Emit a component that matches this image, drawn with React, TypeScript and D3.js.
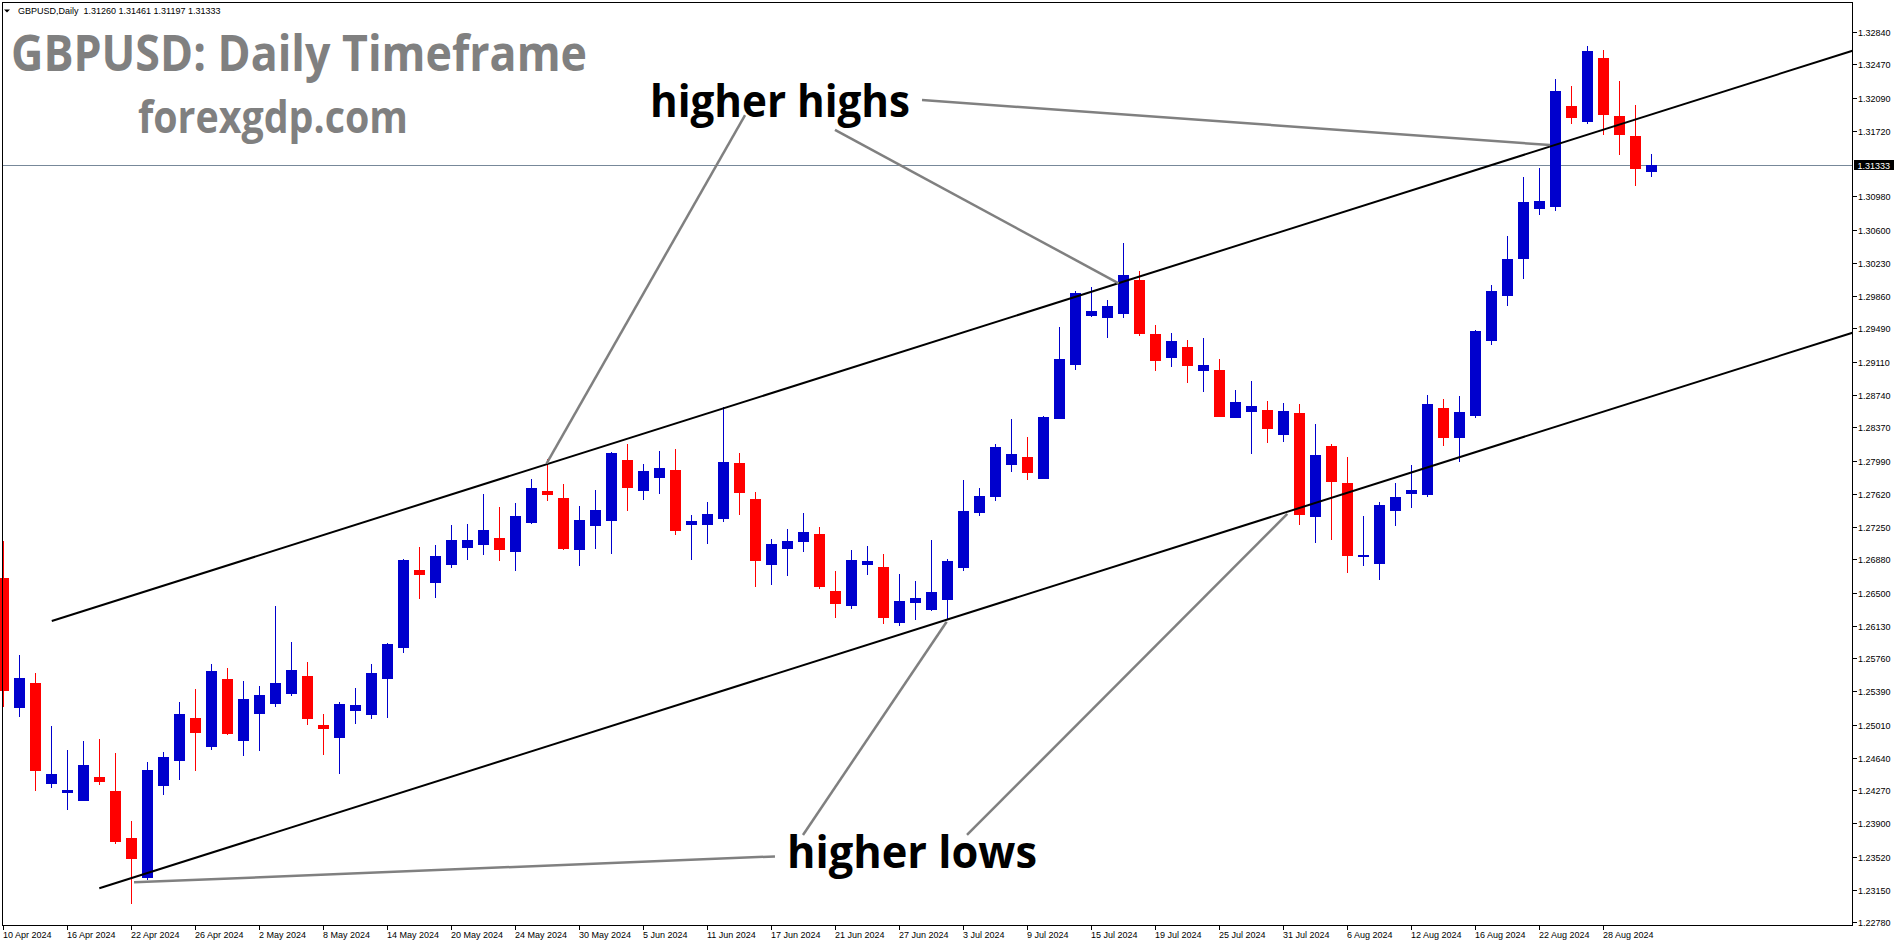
import * as d3 from 'd3';
import React from 'react';

// daily bars, 10 Apr 2024 .. 2 Sep 2024
const opens = [
  1.26672, 1.25204, 1.25482, 1.24345, 1.24244, 1.24153, 1.24421, 1.24263, 1.23732, 1.23283,
  1.24322, 1.24605, 1.25088, 1.24763, 1.25527, 1.24831, 1.25136, 1.25249, 1.25362, 1.25561,
  1.25009, 1.24865, 1.25170, 1.25125, 1.25531, 1.25881, 1.26759, 1.26614, 1.26819, 1.27008,
  1.27042, 1.27121, 1.26966, 1.27290, 1.27655, 1.27573, 1.26985, 1.27256, 1.27313, 1.28002,
  1.27655, 1.27799, 1.27889, 1.27268, 1.27268, 1.27335, 1.27968, 1.27561, 1.26816, 1.26996,
  1.27075, 1.27166, 1.26522, 1.26352, 1.26816, 1.26793, 1.26160, 1.26386, 1.26307, 1.26420,
  1.26782, 1.27403, 1.27584, 1.27946, 1.28039, 1.27791, 1.28469, 1.29078, 1.29632, 1.29609,
  1.29654, 1.30035, 1.29424, 1.29157, 1.29278, 1.29006, 1.29018, 1.28477, 1.28544, 1.28567,
  1.28284, 1.28533, 1.27358, 1.28160, 1.27742, 1.26909, 1.26827, 1.27426, 1.27618, 1.27606,
  1.28590, 1.28250, 1.28499, 1.29346, 1.29854, 1.30270, 1.30841, 1.30860, 1.32000, 1.31820,
  1.32543, 1.31888, 1.31662, 1.31260,
];
const highs = [
  1.27087, 1.25798, 1.25595, 1.24997, 1.24726, 1.24828, 1.24850, 1.24692, 1.23924, 1.24590,
  1.24703, 1.25268, 1.25415, 1.25697, 1.25652, 1.25505, 1.25448, 1.26352, 1.25945, 1.25719,
  1.25133, 1.25268, 1.25426, 1.25697, 1.25934, 1.26883, 1.27016, 1.27042, 1.27267, 1.27279,
  1.27618, 1.27471, 1.27516, 1.27787, 1.28010, 1.27731, 1.27482, 1.27663, 1.28095, 1.28183,
  1.27957, 1.28103, 1.28126, 1.27380, 1.27527, 1.28601, 1.28081, 1.27641, 1.27109, 1.27222,
  1.27403, 1.27245, 1.26748, 1.26985, 1.27030, 1.26940, 1.26714, 1.26635, 1.27098, 1.26883,
  1.27776, 1.27686, 1.28183, 1.28465, 1.28265, 1.28499, 1.29504, 1.29911, 1.29956, 1.29809,
  1.30453, 1.30137, 1.29526, 1.29436, 1.29357, 1.29380, 1.29142, 1.28793, 1.28895, 1.28669,
  1.28646, 1.28635, 1.28409, 1.28183, 1.28036, 1.27369, 1.27527, 1.27742, 1.27946, 1.28736,
  1.28691, 1.28725, 1.29470, 1.29979, 1.30532, 1.31198, 1.31300, 1.32306, 1.32226, 1.32678,
  1.32633, 1.32283, 1.32012, 1.31461,
];
const lows = [
  1.25209, 1.25102, 1.24266, 1.24297, 1.24051, 1.24150, 1.24333, 1.23667, 1.22990, 1.23257,
  1.24221, 1.24390, 1.24492, 1.24729, 1.24899, 1.24662, 1.24718, 1.25215, 1.25340, 1.25012,
  1.24673, 1.24458, 1.25023, 1.25080, 1.25091, 1.25824, 1.26435, 1.26446, 1.26782, 1.26872,
  1.26929, 1.26861, 1.26753, 1.27279, 1.27542, 1.26985, 1.26807, 1.26996, 1.26940, 1.27426,
  1.27554, 1.27618, 1.27155, 1.26872, 1.27053, 1.27301, 1.27380, 1.26567, 1.26590, 1.26692,
  1.26962, 1.26544, 1.26216, 1.26318, 1.26703, 1.26149, 1.26126, 1.26194, 1.26296, 1.26194,
  1.26748, 1.27369, 1.27539, 1.27867, 1.27780, 1.27787, 1.28465, 1.29021, 1.29620, 1.29383,
  1.29609, 1.29405, 1.29010, 1.29055, 1.28872, 1.28770, 1.28488, 1.28477, 1.28070, 1.28194,
  1.28206, 1.27268, 1.27064, 1.27098, 1.26725, 1.26804, 1.26646, 1.27256, 1.27460, 1.27584,
  1.28160, 1.27979, 1.28477, 1.29301, 1.29741, 1.30044, 1.30769, 1.30815, 1.31797, 1.31797,
  1.31673, 1.31447, 1.31096, 1.31197,
];
const closes = [
  1.25394, 1.25539, 1.24492, 1.24455, 1.24274, 1.24556, 1.24367, 1.23686, 1.23497, 1.24500,
  1.24647, 1.25133, 1.24922, 1.25617, 1.24910, 1.25302, 1.25346, 1.25482, 1.25629, 1.25080,
  1.24967, 1.25246, 1.25235, 1.25595, 1.25923, 1.26872, 1.26706, 1.26917, 1.27098, 1.27098,
  1.27211, 1.26989, 1.27369, 1.27686, 1.27610, 1.26996, 1.27324, 1.27437, 1.28084, 1.27686,
  1.27878, 1.27912, 1.27200, 1.27313, 1.27392, 1.27979, 1.27629, 1.26861, 1.27053, 1.27087,
  1.27188, 1.26567, 1.26375, 1.26872, 1.26861, 1.26216, 1.26409, 1.26443, 1.26511, 1.26861,
  1.27426, 1.27595, 1.28149, 1.28070, 1.27859, 1.28488, 1.29142, 1.29888, 1.29685, 1.29741,
  1.30092, 1.29427, 1.29123, 1.29346, 1.29066, 1.29074, 1.28491, 1.28657, 1.28612, 1.28352,
  1.28556, 1.27380, 1.28059, 1.27754, 1.26917, 1.26929, 1.27494, 1.27584, 1.27663, 1.28635,
  1.28250, 1.28544, 1.29459, 1.29911, 1.30278, 1.30916, 1.30928, 1.32170, 1.31868, 1.32622,
  1.31899, 1.31673, 1.31289, 1.31333,
];

const priceTicks = [
  1.32840, 1.32470, 1.32090, 1.31720, 1.30980, 1.30600, 1.30230, 1.29860, 1.29490,
  1.29110, 1.28740, 1.28370, 1.27990, 1.27620, 1.27250, 1.26880, 1.26500, 1.26130,
  1.25760, 1.25390, 1.25010, 1.24640, 1.24270, 1.23900, 1.23520, 1.23150, 1.22780,
];
const dateTicks = [
  '10 Apr 2024', '16 Apr 2024', '22 Apr 2024', '26 Apr 2024', '2 May 2024', '8 May 2024',
  '14 May 2024', '20 May 2024', '24 May 2024', '30 May 2024', '5 Jun 2024', '11 Jun 2024',
  '17 Jun 2024', '21 Jun 2024', '27 Jun 2024', '3 Jul 2024', '9 Jul 2024', '15 Jul 2024',
  '19 Jul 2024', '25 Jul 2024', '31 Jul 2024', '6 Aug 2024', '12 Aug 2024', '16 Aug 2024',
  '22 Aug 2024', '28 Aug 2024',
];

const lastPrice = 1.31333;
const header = 'GBPUSD,Daily  1.31260 1.31461 1.31197 1.31333';

// channel trend lines (bar index, price); drawn as rays to the right edge
const upperChannel = [{ bar: 3.03, price: 1.26183 }, { bar: 97, price: 1.31562 }];
const lowerChannel = [{ bar: 6.0, price: 1.23164 }, { bar: 97, price: 1.28376 }];

// grey pointer lines from the labels to the swing points
const pointerLines = [
  [{ bar: 33.96, price: 1.27964 }, { bar: 46.36, price: 1.31899 }],
  [{ bar: 51.98, price: 1.31730 }, { bar: 69.71, price: 1.29998 }],
  [{ bar: 57.42, price: 1.32068 }, { bar: 96.67, price: 1.31560 }],
  [{ bar: 8.17, price: 1.23231 }, { bar: 48.23, price: 1.23524 }],
  [{ bar: 49.98, price: 1.23766 }, { bar: 58.96, price: 1.26175 }],
  [{ bar: 60.23, price: 1.23766 }, { bar: 80.25, price: 1.27392 }],
];

const W = 1898;
const H = 946;
const plot = { left: 2.5, top: 2.5, right: 1852.5, bottom: 925.5 };
const axisFont = '"Liberation Sans", Arial, sans-serif';
const bigFont = '"Open Sans", "Liberation Sans", sans-serif';

const firstDay = new Date(Date.UTC(2024, 3, 10));
const dates = d3
  .utcDays(firstDay, d3.utcDay.offset(firstDay, 220))
  .filter(d => d.getUTCDay() % 6 !== 0)
  .slice(0, closes.length);
const fmtDate = d3.utcFormat('%-d %b %Y');

const App: React.FC = () => {
  const x = d3.scaleLinear().domain([0, closes.length - 1]).range([3.3, 3.3 + 16 * (closes.length - 1)]);
  const y = d3.scaleLinear().domain([1.22749, 1.3317]).range([925, 2.5]);
  const lastBar = x.invert(plot.right);

  const ray = (pts: { bar: number; price: number }[]) => {
    const [a, b] = pts;
    const slope = (b.price - a.price) / (b.bar - a.bar);
    const endPrice = a.price + slope * (lastBar - a.bar);
    return { x1: x(a.bar), y1: y(a.price), x2: x(lastBar), y2: y(endPrice) };
  };

  const up = ray(upperChannel);
  const lo = ray(lowerChannel);
  const labels = dates.map(d => fmtDate(d));
  const yLast = Math.round(y(lastPrice)) + 0.5;

  return (
    <div style={{ position: 'fixed', left: 0, top: 0 }}>
      <svg width={W} height={H} style={{ display: 'block', background: '#fff' }}>
        <rect x={0} y={0} width={W} height={H} fill="#fff" />

        {/* current price line */}
        <line x1={plot.left} x2={plot.right} y1={yLast} y2={yLast} stroke="#778899" strokeWidth={1} />

        {/* candles */}
        <g shapeRendering="crispEdges">
          {closes.map((c, i) => {
            const o = opens[i];
            const cx = Math.round(x(i)) + 0.5;
            const col = c >= o ? '#0000CD' : '#FF0000';
            const top = Math.round(y(Math.max(o, c)));
            const bot = Math.round(y(Math.min(o, c)));
            return (
              <g key={i}>
                <line x1={cx} x2={cx} y1={Math.round(y(highs[i]))} y2={Math.round(y(lows[i]))} stroke={col} strokeWidth={1} />
                <rect x={cx - 5.5} y={top} width={11} height={Math.max(1, bot - top)} fill={col} />
              </g>
            );
          })}
        </g>

        {/* channel */}
        <line {...up} stroke="#000" strokeWidth={2} />
        <line {...lo} stroke="#000" strokeWidth={2} />

        {/* pointers */}
        {pointerLines.map((p, i) => (
          <line key={i} x1={x(p[0].bar)} y1={y(p[0].price)} x2={x(p[1].bar)} y2={y(p[1].price)} stroke="#808080" strokeWidth={2.5} />
        ))}

        {/* frame */}
        <rect x={plot.left} y={plot.top} width={plot.right - plot.left} height={plot.bottom - plot.top} fill="none" stroke="#000" strokeWidth={1} shapeRendering="crispEdges" />

        {/* price axis */}
        <g fontFamily={axisFont} fontSize={9} fill="#000">
          {priceTicks.map(v => {
            const ty = Math.round(y(v)) + 0.5;
            return (
              <g key={v}>
                <line x1={plot.right} x2={plot.right + 4} y1={ty} y2={ty} stroke="#000" shapeRendering="crispEdges" />
                <text x={1858} y={ty + 3.5}>{v.toFixed(5)}</text>
              </g>
            );
          })}
        </g>
        <rect x={1854} y={yLast - 5.5} width={40} height={10} fill="#000" />
        <text x={1857.5} y={yLast + 3.5} fontFamily={axisFont} fontSize={9} fill="#fff">{lastPrice.toFixed(5)}</text>

        {/* time axis */}
        <g fontFamily={axisFont} fontSize={9} fill="#000">
          {dateTicks.map(t => {
            const i = labels.indexOf(t);
            const tx = Math.round(x(i)) + 0.5;
            return (
              <g key={t}>
                <line x1={tx} x2={tx} y1={plot.bottom} y2={plot.bottom + 4} stroke="#000" shapeRendering="crispEdges" />
                <text x={tx - 0.5} y={937.5}>{t}</text>
              </g>
            );
          })}
        </g>

        {/* header */}
        <path d="M4,9.5 L10,9.5 L7,12.5 Z" fill="#000" />
        <text x={18} y={14} fontFamily={axisFont} fontSize={9} fill="#000" style={{ whiteSpace: 'pre' }}>{header}</text>

        {/* watermark titles */}
        <text x={11} y={70.7} fontFamily={bigFont} fontWeight={700} fontSize={50} fill="#808080" textLength={576} lengthAdjust="spacingAndGlyphs">GBPUSD: Daily Timeframe</text>
        <text x={138} y={133} fontFamily={bigFont} fontWeight={700} fontSize={44} fill="#808080" textLength={270} lengthAdjust="spacingAndGlyphs">forexgdp.com</text>

        {/* annotation labels */}
        <text x={650} y={117} fontFamily={bigFont} fontWeight={700} fontSize={44} fill="#000" textLength={260} lengthAdjust="spacingAndGlyphs">higher highs</text>
        <text x={787} y={868} fontFamily={bigFont} fontWeight={700} fontSize={44} fill="#000" textLength={250} lengthAdjust="spacingAndGlyphs">higher lows</text>
      </svg>
    </div>
  );
};

export default App;
